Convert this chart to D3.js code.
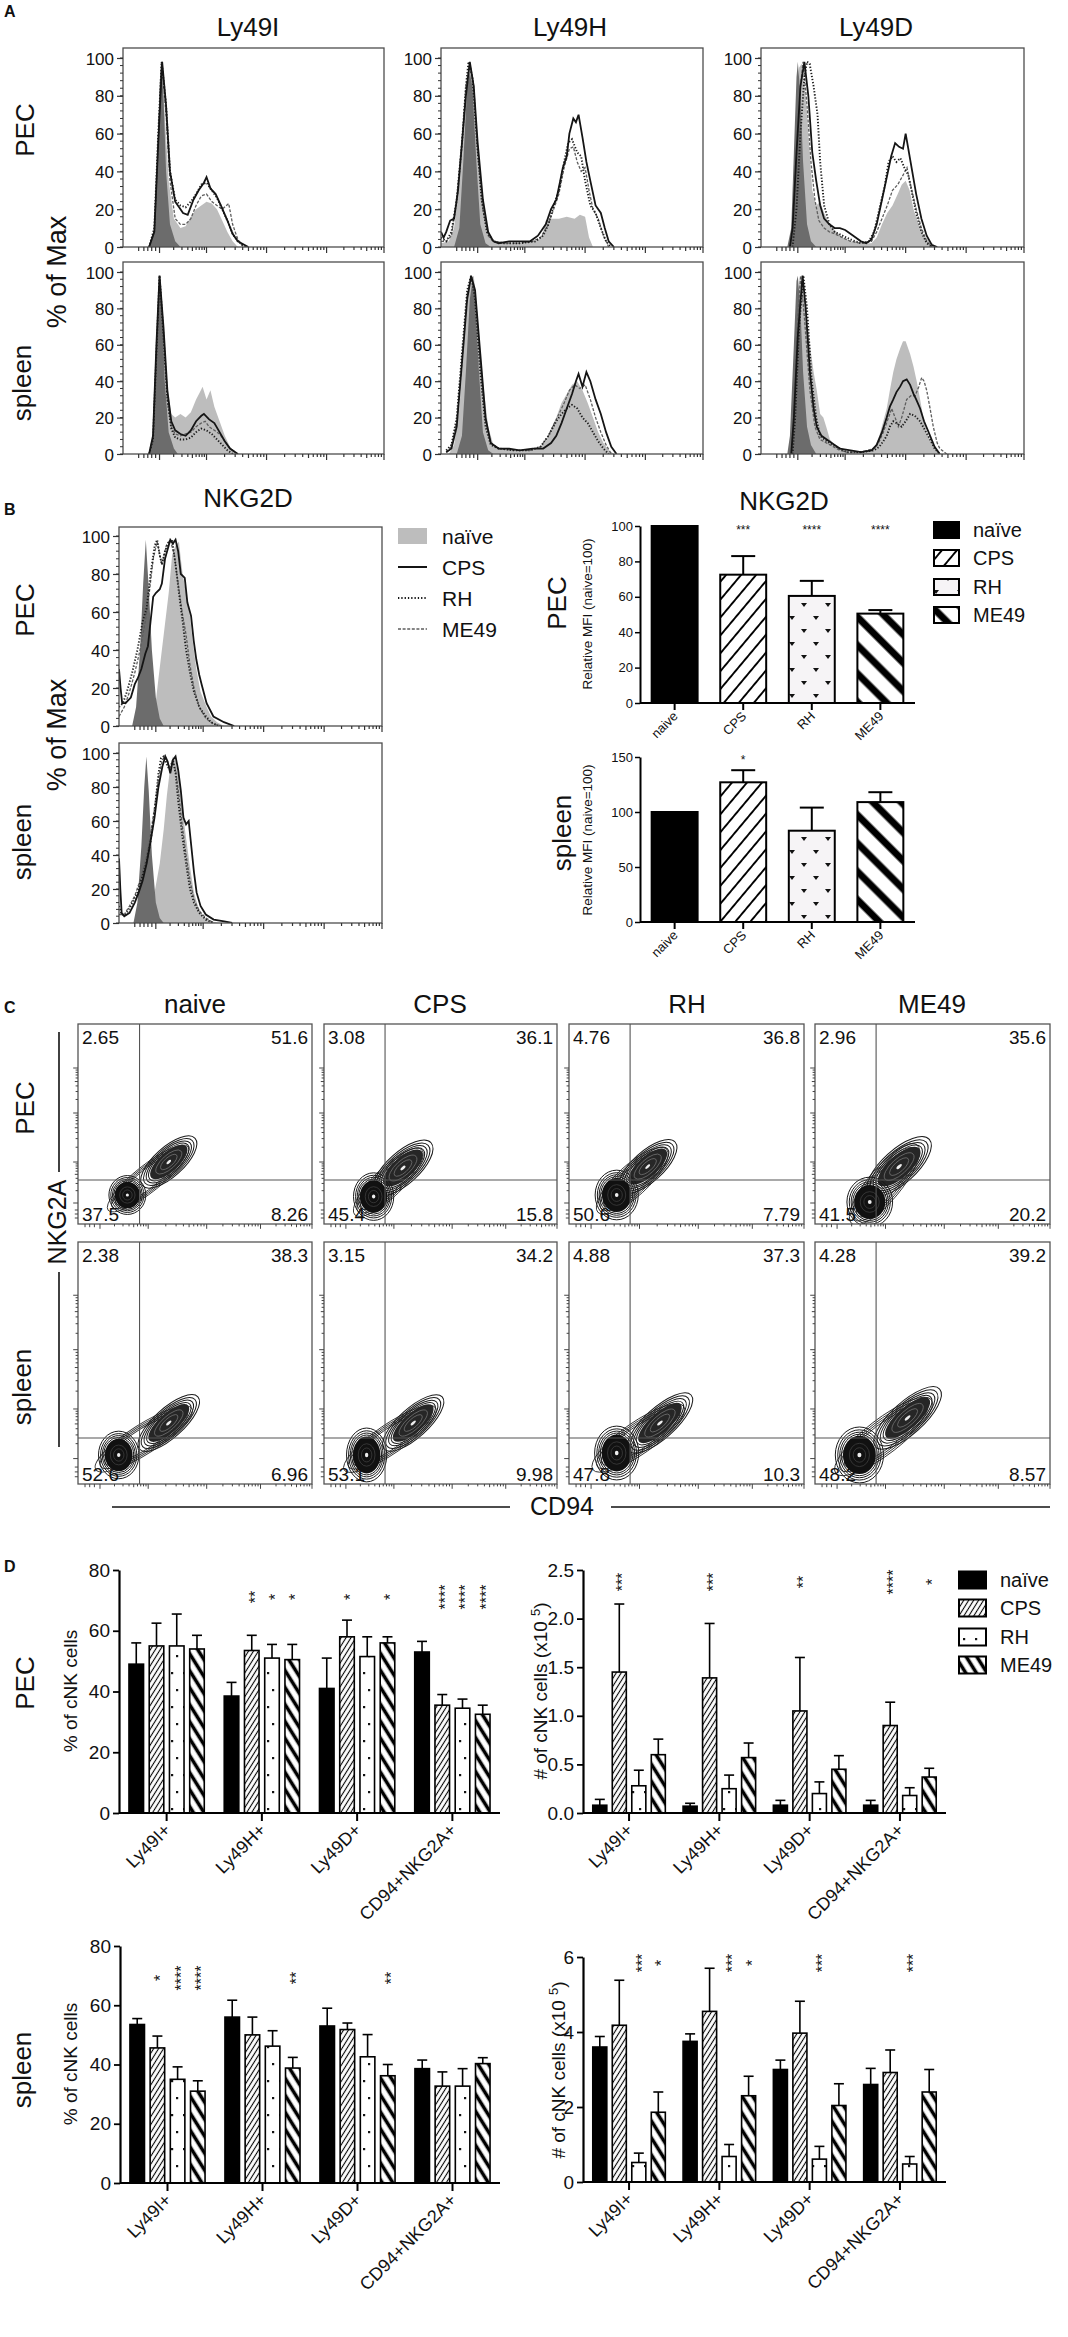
<!DOCTYPE html>
<html>
<head>
<meta charset="utf-8">
<script src="https://cdn.jsdelivr.net/npm/d3@7"></script>
<style>
body { margin: 0; background: #fff; }
svg text { font-family: "Liberation Sans", Arial, sans-serif; fill: #111; }
</style>
</head>
<body>
<svg id="fig" width="1068" height="2337"></svg>
<script>
// ---------------- data ----------------
const markers = ["Ly49I", "Ly49H", "Ly49D"];
const legendNames = ["naïve", "CPS", "RH", "ME49"];
const axisNames = ["naive", "CPS", "RH", "ME49"];
const subsets = ["Ly49I+", "Ly49H+", "Ly49D+", "CD94+NKG2A+"];
const rowNames = ["PEC", "spleen"];

// histogram curves: [position along axis (0-100), % of max]
const ly49iPecIso = [[10,0],[12,8],[13,40],[14,85],[14.6,98],[15.5,80],[16.5,40],[18,12],[20,3],[22,0]];
const ly49iPecNaive = [[10,0],[12,10],[13.5,60],[14.8,98],[16,70],[17.5,35],[19.5,15],[22,10],[24,11],[26,16],[28,20],[30,22],[32,24],[34,23],[36,20],[38,14],[40,8],[42,3],[44,0]];
const ly49iPecCps = [[10,0],[12,8],[13.5,55],[15,98],[16.5,75],[18,40],[20,24],[21.5,21],[23,18],[24.8,17],[27,25],[29,30],[31,34],[32,37],[33.5,31],[35.5,28],[37.5,22],[40,14],[42,7],[44,3],[48,0]];
const ly49iPecRh = [[10,0],[12,10],[13.5,60],[14.8,98],[16.5,75],[18,40],[20,25],[22,22],[24,21],[26,24],[28,28],[30,33],[32,34],[34,30],[36,26],[38,20],[40,14],[42,7],[44,3],[47,0]];
const ly49iPecMe49 = [[10,0],[12,8],[13.5,55],[14.8,97],[16.5,70],[18,35],[20,15],[22,12],[24,12],[26,15],[28,22],[30,27],[32,28],[34,24],[36,22],[38,20],[40.5,23],[42,12],[44,4],[46,0]];

const ly49iSplIso = [[10,0],[11.5,8],[12.5,40],[13.5,85],[14,98],[15,80],[16,40],[17.5,12],[19.5,3],[21,0]];
const ly49iSplNaive = [[10,0],[11.5,10],[12.8,60],[14,98],[15.5,70],[17,35],[18.5,22],[20,20],[22,22],[24,20],[26,23],[28,30],[29.5,34],[30.5,37],[32,30],[33.5,35],[35,26],[37,18],[39,10],[41,4],[43,1],[45,0]];
const ly49iSplCps = [[10,0],[11.5,10],[12.8,60],[14,98],[15.5,70],[17,35],[18.5,18],[20,13],[22,11],[24,10],[26,13],[28,18],[30,21],[31,22],[33,19],[35,17],[37,12],[39,7],[41,3],[44,0]];
const ly49iSplRh = [[10,0],[11.5,8],[12.8,55],[14,98],[15.5,65],[17,30],[18.5,14],[20,9],[22,8],[24,8],[26,9],[28,12],[30,14],[32,13],[34,11],[36,8],[38,5],[40,2],[42,0]];
const ly49iSplMe49 = [[10,0],[11.5,8],[12.8,55],[14,97],[15.5,65],[17,30],[18.5,15],[20,11],[22,10],[24,11],[26,12],[28,15],[30,17],[31.5,18],[33,15],[35,13],[37,11],[39,7],[41,3],[44,0]];

const ly49hPecIso = [[5,0],[7,10],[8.5,45],[10,85],[11,92],[12,85],[13.5,45],[15,12],[17,2],[19,0]];
const ly49hPecNaive = [[0,2],[3,3],[5,10],[7,35],[9,75],[11,98],[12.5,85],[14,55],[16,25],[18,8],[20,3],[24,2],[30,2],[36,3],[38.5,5],[40,14],[42,15],[45,15],[48,16],[51,15],[53,17],[55,16],[56.5,5],[58,0]];
const ly49hPecCps = [[0,8],[1,5],[2,8],[3.5,14],[5,15],[6.5,30],[8,55],[9.5,80],[11,98],[12.5,85],[14,55],[16,25],[18,8],[20,3],[22,2],[26,3],[30,3],[34,3],[37,6],[40,12],[42,20],[44,25],[45.5,35],[46.5,42],[48,48],[49,60],[50.5,68],[51.5,66],[52.5,70],[54,58],[55.5,45],[57,35],[59,22],[61,18],[62.5,10],[64,3],[66,0]];
const ly49hPecRh = [[0,5],[2,3],[4,8],[6,25],[8,55],[9.5,85],[10.5,98],[12,90],[13.5,60],[15.5,25],[17.5,8],[20,3],[24,2],[30,2],[36,3],[39,6],[41,12],[43,22],[45,30],[47,45],[48.5,55],[50,57],[52,50],[53.5,48],[55,35],[57,22],[59,18],[61,10],[63,3],[65,0]];
const ly49hPecMe49 = [[0,3],[2,3],[4,6],[6,25],[8,55],[9.5,85],[11,97],[12.5,85],[14,50],[16,20],[18,6],[20,3],[25,2],[30,2],[35,3],[38,5],[41,12],[43,20],[45,28],[47,42],[49,52],[50.5,53],[52,45],[53.5,40],[55,42],[56.5,30],[58,20],[60,15],[62,6],[64,0]];

const ly49hSplIso = [[6,0],[8,10],[9.5,45],[11,85],[12,95],[13,85],[14.5,45],[16,12],[18,2],[20,0]];
const ly49hSplNaive = [[3,0],[5,5],[7,25],[9,65],[11,95],[12.5,98],[14,75],[16,40],[18,15],[20,5],[23,3],[28,2],[33,2],[37,3],[40,7],[42,14],[44,20],[46,28],[48,33],[50,38],[52,40],[54,35],[56,28],[58,20],[60,12],[62,6],[64,2],[66,0]];
const ly49hSplCps = [[2,1],[4,3],[6,15],[8,50],[10,85],[11.5,98],[13,90],[15,55],[17,20],[19,6],[22,3],[26,3],[30,2],[35,3],[39,3],[42,6],[44,10],[46,17],[48,25],[50,33],[51.5,40],[52.5,44],[54,37],[55.5,45],[57,40],[59,30],[61,22],[63,12],[65,4],[67,0]];
const ly49hSplRh = [[2,2],[4,5],[6,20],[8,55],[10,90],[11.5,98],[13,85],[15,45],[17,15],[19,5],[22,3],[28,2],[34,2],[38,4],[41,10],[44,18],[46,22],[48,25],[50,27],[52,25],[54,20],[56,17],[58,12],[60,7],[62,3],[64,0]];
const ly49hSplMe49 = [[2,1],[4,4],[6,18],[8,50],[10,88],[11.5,97],[13,88],[15,50],[17,18],[19,6],[22,3],[28,2],[34,2],[38,4],[41,10],[43,16],[45,22],[47,28],[49,35],[51,38],[53,36],[55,38],[57,30],[59,20],[61,12],[63,5],[65,0]];

const ly49dPecIso = [[10,0],[11.5,10],[12.5,50],[13.5,90],[14,98],[15,80],[16,45],[17.5,12],[19,3],[21,0]];
const ly49dPecNaive = [[11,0],[12.5,20],[13.5,70],[14.5,95],[15.5,97],[17,80],[18.5,50],[19.5,30],[21,22],[22.5,24],[24,18],[26,12],[28,9],[31,5],[34,3],[38,2],[42,2],[44,5],[46,12],[48,18],[50,22],[52,28],[53.5,33],[55,35],[56.5,30],[58,20],[60,12],[62,6],[64,3],[67,0]];
const ly49dPecCps = [[11,0],[12,10],[13.5,50],[15,85],[16.5,98],[18,80],[19.5,50],[21,35],[22.5,22],[24,15],[26,12],[28,10],[30,10],[32,9],[34,7],[36,5],[38,3],[40,2],[42,4],[44,12],[46,25],[48,38],[49.5,48],[51,55],[52.5,53],[54,52],[55,60],[56,52],[57.5,40],[59,28],[61,15],[63,6],[65,1],[67,0]];
const ly49dPecRh = [[12,0],[13.5,20],[15,60],[16.5,90],[17.5,98],[18.5,97],[20,85],[21.5,70],[22.5,45],[24,22],[26,12],[28,8],[31,6],[34,4],[38,2],[41,3],[43,8],[45,20],[47,32],[48.5,45],[50,48],[51.5,45],[53,47],[54.5,42],[56,38],[57.5,28],[59,18],[61,8],[63,2],[65,0]];
const ly49dPecMe49 = [[11,0],[12.5,15],[14,55],[15,85],[16,98],[17.5,75],[19,45],[20.5,25],[22,14],[24,10],[26,8],[28,7],[31,5],[34,3],[38,2],[42,3],[44,8],[46,15],[48,22],[50,30],[52,33],[54,38],[55.5,42],[57,32],[59,20],[61,10],[63,3],[65,0]];

const ly49dSplIso = [[10,0],[11,10],[12.5,60],[13.5,95],[14,98],[15,80],[16,45],[17.5,15],[19,5],[21,0]];
const ly49dSplNaive = [[11,0],[12,25],[13.5,80],[14.8,98],[16.5,85],[18.6,60],[20,45],[21.2,35],[22.5,22],[23.7,20],[25,14],[26.2,8],[28,5],[30,3],[35,1],[40,1],[43,3],[45,10],[46.5,18],[47.8,25],[49,35],[50.3,45],[51.5,52],[52.9,58],[54,62],[55,62],[56.7,55],[58,48],[59.2,40],[60.5,30],[61.7,20],[63,12],[64.3,8],[66,3],[68,0]];
const ly49dSplCps = [[11.5,0],[12.5,20],[14,65],[15.8,98],[17,80],[18.6,45],[20,25],[21.2,15],[23,10],[25,8],[28,5],[30,3],[34,2],[38,1],[42,2],[44,5],[46,12],[47.8,20],[49,26],[50.3,30],[51.5,34],[52.9,37],[54,40],[55.4,41],[56.7,38],[58,33],[59,30],[60.5,25],[62,18],[64.3,10],[66,4],[68,0]];
const ly49dSplRh = [[12,0],[13,20],[14.5,70],[16.1,98],[17.5,80],[19.3,40],[21,20],[22.4,10],[25,7],[27.5,5],[30,3],[32.6,1],[38,1],[43,2],[45,4],[46.5,7],[47.8,10],[49,15],[50.3,18],[51.5,17],[53.5,15],[55,18],[56.7,22],[58.5,21],[60.5,18],[62,14],[64.3,8],[66,3],[68,0]];
const ly49dSplMe49 = [[11.5,0],[12.5,20],[14,75],[15.1,98],[16.5,75],[18.6,35],[20.5,15],[22.4,8],[25,6],[27.5,4],[30,2],[32.6,1],[38,1],[43,3],[45,7],[46.5,12],[48,18],[49.7,25],[51,20],[52.2,15],[53.5,20],[55.4,30],[57,32],[58.6,32],[60,37],[61.1,42],[62,40],[63,35],[64.3,25],[65.5,15],[67,6],[68,3],[70.6,0]];

const nkPecIso = [[5,0],[6.5,10],[8,40],[9.2,75],[10.2,98],[11.2,75],[12.5,40],[14,15],[15.5,4],[17,0]];
const nkPecNaive = [[12,0],[13.6,8],[15,25],[16.3,40],[17.6,55],[18.9,70],[20.2,90],[21.5,95],[22.8,97],[23.5,88],[24.2,80],[25.5,70],[26.8,60],[28,45],[29.4,30],[31,18],[33.3,10],[35,5],[37.3,2],[40,0]];
const nkPecCps = [[0,30],[0.6,20],[1.2,12],[2.5,12],[4.5,15],[6,22],[7.1,25],[8.5,30],[10,38],[11,42],[12,55],[13,68],[14,70],[15.5,72],[16.3,75],[17.5,88],[18.9,95],[19.5,98],[20.5,96],[21.5,98],[22.5,92],[23.5,80],[25,78],[26,65],[27.4,58],[28.4,45],[29.4,35],[30.5,27],[31.4,22],[33.3,12],[35.9,5],[39.9,2],[43.8,0]];
const nkPecRh = [[0,10],[1.5,12],[3,18],[5,28],[7,40],[9,55],[10.5,62],[12,80],[13.6,95],[14.5,98],[15.5,90],[16.3,85],[17.5,92],[18.9,97],[20.2,98],[21.5,85],[22.8,70],[24.2,55],[25.5,40],[27,28],[28.5,18],[30.5,10],[32.5,6],[35,2],[38,0]];
const nkPecMe49 = [[0,5],[2,10],[4,18],[6,28],[8,40],[10,55],[11.5,70],[13,88],[14.5,97],[15.5,90],[16.3,85],[18,95],[19.5,98],[21,90],[22.5,75],[24,60],[25.5,48],[27,32],[28.5,20],[30.5,10],[33,4],[36,1],[39,0]];

const nkSplIso = [[5.5,0],[7,12],[8.5,45],[9.6,80],[10.4,98],[11.3,78],[12.5,40],[14,12],[15.5,3],[17,0]];
const nkSplNaive = [[11,0],[12.5,10],[14,22],[15.5,35],[17,55],[18.2,75],[19.5,92],[20.5,98],[21.5,95],[22.8,85],[24,68],[25.5,50],[27,33],[28.5,18],[30,10],[32,4],[35,1],[38,0]];
const nkSplCps = [[0,38],[0.5,20],[1,6],[2,4],[4,6],[6,12],[7.5,18],[9,25],[10.5,35],[12,48],[13.5,62],[15,80],[16.5,92],[17.6,98],[18.5,95],[19.5,88],[20.5,96],[21.5,98],[22.5,90],[23.5,78],[24.5,62],[25.5,58],[26.5,60],[27.5,45],[28.5,30],[29.5,18],[31,10],[33,5],[36,2],[40,1],[43,0]];
const nkSplRh = [[0,10],[1,5],[2.5,5],[4.5,10],[7,18],[9,28],[10.5,36],[12,48],[13.5,65],[15,88],[16,97],[17,98],[18.5,92],[19.5,90],[20.5,96],[21.5,88],[22.5,72],[24,52],[25.5,35],[27,20],[28.5,12],[30.5,6],[33,2],[36,0]];
const nkSplMe49 = [[0,5],[2,5],[4,10],[6,16],[8,25],[10,36],[12,52],[13.5,68],[15,85],[16.5,96],[17.5,98],[19,92],[20.5,95],[21.5,90],[22.8,75],[24,58],[25.5,40],[27,25],[28.5,14],[30.5,7],[33,3],[36,0]];

const histYTicks = [0, 20, 40, 60, 80, 100];
const histDecades = [14, 32, 55, 78, 100];
const histNearZero = [6, 8, 9.5, 11, 12.5];

// B: relative MFI of NKG2D (naive = 100)
const mfiPec = [100, 72.5, 60.5, 50.5];
const mfiPecSem = [0, 10.5, 8.5, 2];
const mfiPecStars = ["", "***", "****", "****"];
const mfiSpl = [100, 127, 83, 109];
const mfiSplSem = [0, 11, 21, 9];
const mfiSplStars = ["", "*", "", ""];
const mfiPecTicks = [0, 20, 40, 60, 80, 100];
const mfiSplTicks = [0, 50, 100, 150];

// C: contour plots, quadrant percentages (naive, CPS, RH, ME49)
const cPecUL = ["2.65", "3.08", "4.76", "2.96"];
const cPecUR = ["51.6", "36.1", "36.8", "35.6"];
const cPecLL = ["37.5", "45.4", "50.6", "41.5"];
const cPecLR = ["8.26", "15.8", "7.79", "20.2"];
const cSplUL = ["2.38", "3.15", "4.88", "4.28"];
const cSplUR = ["38.3", "34.2", "37.3", "39.2"];
const cSplLL = ["52.6", "53.1", "47.8", "48.2"];
const cSplLR = ["6.96", "9.98", "10.3", "8.57"];
// populations: [center CD94, center NKG2A, spread x, spread y] in axis units
const cPecLowPop = [[21.1, 14.5, 7.3, 9], [21.3, 13.7, 8, 11], [20.3, 14.5, 8.5, 11.5], [23.3, 11, 9, 11.5]];
const cPecHighPop = [[38.8, 31, 14, 5.8], [33.9, 28, 15, 6.3], [33.5, 28.7, 14.5, 6], [35.8, 28.7, 16, 6.6]];
const cSplLowPop = [[17.4, 12, 8, 9.1], [18.3, 12, 8, 10.3], [20.3, 12.8, 8.7, 10.3], [18.9, 12, 9.5, 10.7]];
const cSplHighPop = [[38.8, 25.2, 15.5, 5.8], [38.3, 25.2, 15.5, 5.8], [38.7, 25.2, 16.5, 6], [39.4, 27.3, 17, 6.3]];
const cGateX = [26.3, 26.2, 26, 26];
const cGateY = [22, 19];

// D: % of cNK cells and numbers (x10^5), by subset
const pecPctNaive = [49, 38.5, 41, 53];
const pecPctNaiveSem = [7, 4.5, 10, 3.5];
const pecPctCps = [55, 53.5, 58, 35.5];
const pecPctCpsSem = [7.5, 5, 5.5, 3.5];
const pecPctRh = [55, 51, 51.5, 34.5];
const pecPctRhSem = [10.5, 4.5, 6.5, 3];
const pecPctMe49 = [54, 50.5, 56, 32.5];
const pecPctMe49Sem = [4.5, 5, 2, 3];

const pecNumNaive = [0.08, 0.07, 0.08, 0.08];
const pecNumNaiveSem = [0.06, 0.03, 0.05, 0.05];
const pecNumCps = [1.45, 1.39, 1.05, 0.9];
const pecNumCpsSem = [0.7, 0.56, 0.55, 0.24];
const pecNumRh = [0.28, 0.25, 0.2, 0.18];
const pecNumRhSem = [0.16, 0.14, 0.12, 0.08];
const pecNumMe49 = [0.6, 0.57, 0.45, 0.37];
const pecNumMe49Sem = [0.16, 0.15, 0.14, 0.09];

const splPctNaive = [53.5, 56, 53, 38.6];
const splPctNaiveSem = [2, 5.7, 6, 2.9];
const splPctCps = [45.6, 50, 51.8, 32.7];
const splPctCpsSem = [4, 6, 2.2, 4.8];
const splPctRh = [35, 46.2, 42.6, 32.7];
const splPctRhSem = [4.2, 5.2, 7.5, 5.9];
const splPctMe49 = [31, 38.8, 36.2, 40.3];
const splPctMe49Sem = [3.5, 3.6, 3.8, 2];

const splNumNaive = [3.6, 3.75, 3.0, 2.6];
const splNumNaiveSem = [0.28, 0.2, 0.25, 0.43];
const splNumCps = [4.18, 4.55, 3.97, 2.92];
const splNumCpsSem = [1.2, 1.15, 0.85, 0.6];
const splNumRh = [0.52, 0.68, 0.61, 0.48];
const splNumRhSem = [0.25, 0.32, 0.34, 0.2];
const splNumMe49 = [1.86, 2.3, 2.04, 2.4];
const splNumMe49Sem = [0.54, 0.52, 0.58, 0.6];

// significance, by condition then subset
const pecPctStars = [["", "", "", ""], ["", "**", "*", "****"], ["", "*", "", "****"], ["", "*", "*", "****"]];
const pecNumStars = [["", "", "", ""], ["***", "***", "**", "****"], ["", "", "", ""], ["", "", "", "*"]];
const splPctStars = [["", "", "", ""], ["*", "", "", ""], ["****", "", "", ""], ["****", "**", "**", ""]];
const splNumStars = [["", "", "", ""], ["", "", "", ""], ["***", "***", "***", "***"], ["*", "*", "", ""]];

const pctTicks = [0, 20, 40, 60, 80];
const pecNumTicks = [0, 0.5, 1, 1.5, 2, 2.5];
const splNumTicks = [0, 2, 4, 6];

// ---------------- drawing ----------------
const svg = d3.select('#fig');
const defs = svg.append('defs');
let clipN = 0;

function label(x, y, s, size, anchor, rot, weight) {
    const t = svg.append('text')
        .attr('font-size', size)
        .attr('text-anchor', anchor || 'start')
        .text(s);
    if (rot) t.attr('transform', 'translate(' + x + ',' + y + ') rotate(' + rot + ')');
    else t.attr('x', x).attr('y', y);
    if (weight) t.attr('font-weight', weight);
    return t;
}

// fill patterns
function hatch(id, angle, gap, sw) {
    const p = defs.append('pattern').attr('id', id)
        .attr('patternUnits', 'userSpaceOnUse')
        .attr('width', gap).attr('height', gap)
        .attr('patternTransform', 'rotate(' + angle + ')');
    p.append('rect').attr('width', gap).attr('height', gap).attr('fill', '#fff');
    p.append('line').attr('x1', gap / 2).attr('y1', -1).attr('x2', gap / 2).attr('y2', gap + 1)
        .attr('stroke', '#000').attr('stroke-width', sw);
}
hatch('cpsB', 40, 11.5, 1.9);
hatch('me49B', -45, 20, 7);
hatch('cpsD', 32, 4.2, 1.1);
hatch('me49D', -32, 9, 3.6);

const rhB = defs.append('pattern').attr('id', 'rhB').attr('patternUnits', 'userSpaceOnUse')
    .attr('width', 24).attr('height', 26);
rhB.append('rect').attr('width', 24).attr('height', 26).attr('fill', '#f6f4f6');
[[12, 7], [0, 20], [24, 20]].forEach(function (m) {
    rhB.append('path')
        .attr('d', 'M' + (m[0] - 3) + ',' + (m[1] - 2) + 'L' + m[0] + ',' + (m[1] + 2) + 'L' + (m[0] + 3) + ',' + (m[1] - 2) + 'Z')
        .attr('fill', '#111');
});
const rhD = defs.append('pattern').attr('id', 'rhD').attr('patternUnits', 'userSpaceOnUse')
    .attr('width', 12).attr('height', 34);
rhD.append('rect').attr('width', 12).attr('height', 34).attr('fill', '#fff');
[[3, 6], [8, 23]].forEach(function (m) {
    rhD.append('rect').attr('x', m[0]).attr('y', m[1]).attr('width', 2.2).attr('height', 2.2).attr('fill', '#111');
});

const fillsB = ['#000', 'url(#cpsB)', 'url(#rhB)', 'url(#me49B)'];
const fillsD = ['#000', 'url(#cpsD)', 'url(#rhD)', 'url(#me49D)'];

function logTicks(decades, near) {
    const out = near.map(function (p) { return {p: p, len: 4}; });
    decades.forEach(function (d, i) {
        out.push({p: d, len: 6});
        if (i < decades.length - 1) {
            for (let k = 2; k < 10; k++) {
                out.push({p: d + Math.log10(k) * (decades[i + 1] - d), len: k === 5 ? 4 : 3});
            }
        }
    });
    return out;
}

// ---- histogram panel ----
function histPanel(x0, x1, top, y100, y0, curves) {
    const g = svg.append('g');
    const x = d3.scaleLinear().domain([0, 100]).range([x0, x1]);
    const y = d3.scaleLinear().domain([0, 100]).range([y0, y100]);
    const id = 'hc' + (clipN++);
    defs.append('clipPath').attr('id', id).append('rect')
        .attr('x', x0).attr('y', top).attr('width', x1 - x0).attr('height', y0 - top);
    const area = d3.area().x(d => x(d[0])).y0(y0).y1(d => y(d[1]));
    const line = d3.line().x(d => x(d[0])).y(d => y(d[1]));
    const pg = g.append('g').attr('clip-path', 'url(#' + id + ')');
    pg.append('path').datum(curves[1]).attr('d', area).attr('fill', '#bdbdbd');
    pg.append('path').datum(curves[0]).attr('d', area).attr('fill', '#6c6c6c');
    pg.append('path').datum(curves[4]).attr('d', line).attr('fill', 'none')
        .attr('stroke', '#5e5e5e').attr('stroke-width', 1.3).attr('stroke-dasharray', '3,1.6');
    pg.append('path').datum(curves[3]).attr('d', line).attr('fill', 'none')
        .attr('stroke', '#1e1e1e').attr('stroke-width', 1.9).attr('stroke-dasharray', '1.3,1.8');
    pg.append('path').datum(curves[2]).attr('d', line).attr('fill', 'none')
        .attr('stroke', '#151515').attr('stroke-width', 1.8);

    g.append('rect').attr('x', x0).attr('y', top).attr('width', x1 - x0).attr('height', y0 - top)
        .attr('fill', 'none').attr('stroke', '#4d4d4d').attr('stroke-width', 1.3);

    const ya = g.append('g').attr('transform', 'translate(' + x0 + ',0)')
        .call(d3.axisLeft(y).tickValues(histYTicks).tickSize(6).tickPadding(3));
    ya.select('.domain').remove();
    ya.selectAll('text').attr('font-family', '"DejaVu Sans", sans-serif').attr('font-size', 17)
        .attr('dy', '0.36em').attr('fill', '#111');
    ya.selectAll('line').attr('stroke', '#333').attr('stroke-width', 1.2);
    g.selectAll(null).data(d3.range(0, 101, 4)).join('line')
        .attr('x1', x0 - 3).attr('x2', x0).attr('y1', d => y(d)).attr('y2', d => y(d))
        .attr('stroke', '#333').attr('stroke-width', 1);
    g.selectAll(null).data(logTicks(histDecades, histNearZero)).join('line')
        .attr('x1', d => x(d.p)).attr('x2', d => x(d.p)).attr('y1', y0).attr('y2', d => y0 + d.len)
        .attr('stroke', '#333').attr('stroke-width', 1.2);
}

// ---------- Panel A ----------
label(4, 17, 'A', 16, 'start', 0, 'bold');
const aCols = [[123, 384, 248], [441, 703, 570], [761, 1024, 876]];
const aRows = [[48, 58, 247], [262, 272, 454]];
const aCurves = [
    [[ly49iPecIso, ly49iPecNaive, ly49iPecCps, ly49iPecRh, ly49iPecMe49],
     [ly49iSplIso, ly49iSplNaive, ly49iSplCps, ly49iSplRh, ly49iSplMe49]],
    [[ly49hPecIso, ly49hPecNaive, ly49hPecCps, ly49hPecRh, ly49hPecMe49],
     [ly49hSplIso, ly49hSplNaive, ly49hSplCps, ly49hSplRh, ly49hSplMe49]],
    [[ly49dPecIso, ly49dPecNaive, ly49dPecCps, ly49dPecRh, ly49dPecMe49],
     [ly49dSplIso, ly49dSplNaive, ly49dSplCps, ly49dSplRh, ly49dSplMe49]]
];
markers.forEach(function (m, i) {
    label(aCols[i][2], 36, m, 26, 'middle');
    aRows.forEach(function (r, j) {
        histPanel(aCols[i][0], aCols[i][1], r[0], r[1], r[2], aCurves[i][j]);
    });
});
label(34, 130, rowNames[0], 26, 'middle', -90);
label(31, 383, rowNames[1], 26, 'middle', -90);
label(66, 272, '% of Max', 27, 'middle', -90);

// ---------- Panel B (histograms) ----------
label(4, 515, 'B', 16, 'start', 0, 'bold');
label(248, 507, 'NKG2D', 26, 'middle');
histPanel(119, 382, 527, 536, 726, [nkPecIso, nkPecNaive, nkPecCps, nkPecRh, nkPecMe49]);
histPanel(119, 382, 743, 753, 923, [nkSplIso, nkSplNaive, nkSplCps, nkSplRh, nkSplMe49]);
label(34, 610, rowNames[0], 26, 'middle', -90);
label(31, 842, rowNames[1], 26, 'middle', -90);
label(66, 735, '% of Max', 27, 'middle', -90);

// legend for histograms
const histLegY = [536, 567, 598, 629];
legendNames.forEach(function (n, i) {
    const yy = histLegY[i];
    if (i === 0) {
        svg.append('rect').attr('x', 398).attr('y', yy - 8).attr('width', 29).attr('height', 16).attr('fill', '#bdbdbd');
    } else {
        svg.append('line').attr('x1', 398).attr('x2', 427).attr('y1', yy).attr('y2', yy)
            .attr('stroke', i === 3 ? '#5e5e5e' : '#151515')
            .attr('stroke-width', i === 3 ? 1.4 : 2)
            .attr('stroke-dasharray', i === 2 ? '1.3,2' : (i === 3 ? '3,1.6' : null));
    }
    label(442, yy + 8, n, 21, 'start');
});

// ---------- Panel B (bar charts) ----------
function mfiChart(y0, yTop, domain, ticks, vals, sems, stars, starY) {
    const g = svg.append('g');
    const x = d3.scaleBand().domain(axisNames).range([640, 915]).paddingInner(0.33).paddingOuter(0.17);
    const y = d3.scaleLinear().domain(domain).range([y0, yTop]);
    const data = axisNames.map(function (k, i) {
        return {k: k, v: vals[i], e: sems[i], s: stars[i], f: fillsB[i]};
    });
    g.selectAll('rect').data(data).join('rect')
        .attr('x', d => x(d.k)).attr('y', d => y(d.v))
        .attr('width', x.bandwidth()).attr('height', d => y0 - y(d.v))
        .attr('fill', d => d.f).attr('stroke', '#000').attr('stroke-width', 2);
    const eb = data.filter(d => d.e > 0);
    g.selectAll('.ev').data(eb).join('line')
        .attr('x1', d => x(d.k) + x.bandwidth() / 2).attr('x2', d => x(d.k) + x.bandwidth() / 2)
        .attr('y1', d => y(d.v)).attr('y2', d => y(d.v + d.e))
        .attr('stroke', '#000').attr('stroke-width', 2);
    g.selectAll('.ec').data(eb).join('line')
        .attr('x1', d => x(d.k) + x.bandwidth() / 2 - 12).attr('x2', d => x(d.k) + x.bandwidth() / 2 + 12)
        .attr('y1', d => y(d.v + d.e)).attr('y2', d => y(d.v + d.e))
        .attr('stroke', '#000').attr('stroke-width', 2);
    g.selectAll('.st').data(data).join('text')
        .attr('x', d => x(d.k) + x.bandwidth() / 2).attr('y', starY)
        .attr('text-anchor', 'middle').attr('font-size', 12).text(d => d.s);

    const ya = g.append('g').attr('transform', 'translate(640,0)')
        .call(d3.axisLeft(y).tickValues(ticks).tickSize(5).tickPadding(2).tickSizeOuter(0));
    ya.select('.domain').attr('stroke-width', 2);
    ya.selectAll('line').attr('stroke-width', 1.5);
    ya.selectAll('text').attr('font-size', 13).attr('font-family', '"Liberation Sans", Arial, sans-serif');
    const xa = g.append('g').attr('transform', 'translate(0,' + y0 + ')')
        .call(d3.axisBottom(x).tickSize(7).tickSizeOuter(0).tickFormat(''));
    xa.select('.domain').attr('d', 'M640,0H915').attr('stroke-width', 2);
    xa.selectAll('line').attr('stroke-width', 2);
    g.selectAll('.xl').data(axisNames).join('text')
        .attr('transform', d => 'translate(' + (x(d) + x.bandwidth() / 2 + 4) + ',' + (y0 + 14) + ') rotate(-45)')
        .attr('text-anchor', 'end').attr('font-size', 13).text(d => d);
}
label(784, 510, 'NKG2D', 26, 'middle');
mfiChart(703, 526, [0, 100], mfiPecTicks, mfiPec, mfiPecSem, mfiPecStars, 534);
mfiChart(922, 757, [0, 150], mfiSplTicks, mfiSpl, mfiSplSem, mfiSplStars, 764);
label(566, 603, rowNames[0], 26, 'middle', -90);
label(571, 833, rowNames[1], 26, 'middle', -90);
label(592, 614, 'Relative MFI (naive=100)', 13.5, 'middle', -90);
label(592, 840, 'Relative MFI (naive=100)', 13.5, 'middle', -90);

function barLegend(x, w, h, ys, size, textX, fills) {
    legendNames.forEach(function (n, i) {
        svg.append('rect').attr('x', x).attr('y', ys[i] - h / 2).attr('width', w).attr('height', h)
            .attr('fill', fills[i]).attr('stroke', '#000').attr('stroke-width', 2);
        label(textX, ys[i] + size * 0.36, n, size, 'start');
    });
}
barLegend(934, 25, 16, [530, 558, 587, 615], 20, 973, fillsB);

// ---------- Panel C ----------
label(4, 1013, 'C', 16, 'start', 0, 'bold');
const cFramesX = [[78, 312], [324, 557], [569, 804], [815, 1050]];
const cTitleX = [195, 440, 687, 932];
const cRows = [[1024, 1224], [1242, 1484]];
const cYDecades = [10.5, 31, 55.5, 78];
const cXDecades = [9.4, 30, 55, 78, 100];

// one population: open outer contours, dark dense core, inner rings, pale center
function population(cg, cx, cy, rx, ry, rot, outer, core, inner, coreFill, innerStroke) {
    const tr = 'rotate(' + rot + ',' + cx + ',' + cy + ')';
    cg.selectAll(null).data(outer).join('ellipse')
        .attr('cx', cx).attr('cy', cy).attr('rx', s => rx * s).attr('ry', s => ry * s)
        .attr('transform', tr).attr('fill', 'none').attr('stroke', '#1a1a1a').attr('stroke-width', 1);
    cg.append('ellipse').attr('cx', cx).attr('cy', cy).attr('rx', rx * core).attr('ry', ry * core)
        .attr('transform', tr).attr('fill', coreFill);
    cg.selectAll(null).data(inner).join('ellipse')
        .attr('cx', cx).attr('cy', cy).attr('rx', s => rx * s).attr('ry', s => ry * s)
        .attr('transform', tr).attr('fill', 'none').attr('stroke', innerStroke).attr('stroke-width', 0.7);
    cg.append('ellipse').attr('cx', cx).attr('cy', cy).attr('rx', Math.max(1.4, rx * 0.09)).attr('ry', Math.max(1.2, ry * 0.09))
        .attr('transform', tr).attr('fill', '#eee');
}

function contourPlot(fx, top, bottom, low, high, gx, gy, nums) {
    const g = svg.append('g');
    const x = d3.scaleLinear().domain([0, 100]).range(fx);
    const y = d3.scaleLinear().domain([0, 100]).range([bottom, top]);
    const w = fx[1] - fx[0], h = bottom - top;
    const id = 'cc' + (clipN++);
    defs.append('clipPath').attr('id', id).append('rect')
        .attr('x', fx[0]).attr('y', top).attr('width', w).attr('height', h);
    const cg = g.append('g').attr('clip-path', 'url(#' + id + ')');

    const lx = x(low[0]), ly = y(low[1]);
    const hx = x(high[0]), hy = y(high[1]);
    const lrx = low[2] * w / 100, lry = low[3] * h / 100;
    const ha = high[2] * w / 100, hb = high[3] * w / 100;
    const ang = Math.atan2(hy - ly, hx - lx) * 180 / Math.PI;
    const dist = Math.hypot(hx - lx, hy - ly);
    const mx = (lx + hx) / 2, my = (ly + hy) / 2;
    // outer contours joining the two populations
    cg.selectAll('.br').data([1, 0.9, 0.8, 0.7]).join('ellipse')
        .attr('cx', mx).attr('cy', my)
        .attr('rx', s => (dist / 2 + ha * 0.75) * s).attr('ry', s => Math.min(lrx, lry) * 0.78 * s)
        .attr('transform', 'rotate(' + ang + ',' + mx + ',' + my + ')')
        .attr('fill', 'none').attr('stroke', '#333').attr('stroke-width', 0.9);
    population(cg, hx, hy, ha, hb, -42, [1.08, 0.97, 0.87, 0.78], 0.72, [0.5, 0.32], '#262626', '#777');
    population(cg, lx, ly, lrx, lry, 0, [1.08, 0.97, 0.88, 0.8], 0.74, [0.45, 0.28], '#111', '#444');

    g.append('line').attr('x1', x(gx)).attr('x2', x(gx)).attr('y1', top).attr('y2', bottom)
        .attr('stroke', '#555').attr('stroke-width', 1.1);
    g.append('line').attr('x1', fx[0]).attr('x2', fx[1]).attr('y1', y(gy)).attr('y2', y(gy))
        .attr('stroke', '#555').attr('stroke-width', 1.1);
    g.append('rect').attr('x', fx[0]).attr('y', top).attr('width', w).attr('height', h)
        .attr('fill', 'none').attr('stroke', '#555').attr('stroke-width', 1.3);

    g.selectAll('.yt').data(logTicks(cYDecades, [3, 5, 7])).join('line')
        .attr('x1', d => fx[0] - d.len * 0.8).attr('x2', fx[0])
        .attr('y1', d => y(d.p)).attr('y2', d => y(d.p))
        .attr('stroke', '#444').attr('stroke-width', 1);
    g.selectAll('.xt').data(logTicks(cXDecades, [3, 5, 7])).join('line')
        .attr('x1', d => x(d.p)).attr('x2', d => x(d.p)).attr('y1', bottom).attr('y2', d => bottom + d.len * 0.8)
        .attr('stroke', '#444').attr('stroke-width', 1);

    g.append('text').attr('x', fx[0] + 4).attr('y', top + 20).attr('font-size', 19).text(nums[0]);
    g.append('text').attr('x', fx[1] - 4).attr('y', top + 20).attr('font-size', 19).attr('text-anchor', 'end').text(nums[1]);
    g.append('text').attr('x', fx[0] + 4).attr('y', bottom - 3).attr('font-size', 19).text(nums[2]);
    g.append('text').attr('x', fx[1] - 4).attr('y', bottom - 3).attr('font-size', 19).attr('text-anchor', 'end').text(nums[3]);
}
axisNames.forEach(function (n, i) {
    label(cTitleX[i], 1013, n, 26, 'middle');
    contourPlot(cFramesX[i], cRows[0][0], cRows[0][1], cPecLowPop[i], cPecHighPop[i], cGateX[i], cGateY[0],
        [cPecUL[i], cPecUR[i], cPecLL[i], cPecLR[i]]);
    contourPlot(cFramesX[i], cRows[1][0], cRows[1][1], cSplLowPop[i], cSplHighPop[i], cGateX[i], cGateY[1],
        [cSplUL[i], cSplUR[i], cSplLL[i], cSplLR[i]]);
});
label(34, 1108, rowNames[0], 26, 'middle', -90);
label(31, 1387, rowNames[1], 26, 'middle', -90);
label(66, 1222, 'NKG2A', 25, 'middle', -90);
svg.append('line').attr('x1', 59).attr('x2', 59).attr('y1', 1032).attr('y2', 1172).attr('stroke', '#111').attr('stroke-width', 1.6);
svg.append('line').attr('x1', 59).attr('x2', 59).attr('y1', 1272).attr('y2', 1447).attr('stroke', '#111').attr('stroke-width', 1.6);
label(562, 1515, 'CD94', 25, 'middle');
svg.append('line').attr('x1', 112).attr('x2', 510).attr('y1', 1507).attr('y2', 1507).attr('stroke', '#111').attr('stroke-width', 1.6);
svg.append('line').attr('x1', 611).attr('x2', 1050).attr('y1', 1507).attr('y2', 1507).attr('stroke', '#111').attr('stroke-width', 1.6);

// ---------- Panel D ----------
function groupedBars(o) {
    const g = svg.append('g');
    const x0 = d3.scaleBand().domain(subsets).range([o.ax, o.xEnd]).paddingInner(o.pi).paddingOuter(o.po);
    const x1 = d3.scaleBand().domain(legendNames).range([0, x0.bandwidth()]).paddingInner(0.28).paddingOuter(0.14);
    const y = d3.scaleLinear().domain(o.domain).range([o.y0, o.yTop]);
    const data = [];
    subsets.forEach(function (s, i) {
        legendNames.forEach(function (c, j) {
            data.push({s: s, c: c, v: o.means[j][i], e: o.sems[j][i], st: o.stars[j][i], f: fillsD[j]});
        });
    });
    const cx = d => x0(d.s) + x1(d.c) + x1.bandwidth() / 2;
    g.selectAll('.ev').data(data).join('line')
        .attr('x1', cx).attr('x2', cx).attr('y1', d => y(d.v)).attr('y2', d => y(d.v + d.e))
        .attr('stroke', '#000').attr('stroke-width', 1.6);
    g.selectAll('.ec').data(data).join('line')
        .attr('x1', d => cx(d) - 5).attr('x2', d => cx(d) + 5)
        .attr('y1', d => y(d.v + d.e)).attr('y2', d => y(d.v + d.e))
        .attr('stroke', '#000').attr('stroke-width', 1.6);
    g.selectAll('rect').data(data).join('rect')
        .attr('x', d => x0(d.s) + x1(d.c)).attr('y', d => y(d.v))
        .attr('width', x1.bandwidth()).attr('height', d => o.y0 - y(d.v))
        .attr('fill', d => d.f).attr('stroke', '#000').attr('stroke-width', 1.6);
    g.selectAll('.st').data(data.filter(d => d.st)).join('text')
        .attr('transform', d => 'translate(' + (cx(d) + 9) + ',' + o.starY + ') rotate(-90)')
        .attr('text-anchor', 'middle').attr('font-size', 16).text(d => d.st);

    const ya = g.append('g').attr('transform', 'translate(' + o.ax + ',0)')
        .call(d3.axisLeft(y).tickValues(o.ticks).tickSize(6).tickPadding(3).tickSizeOuter(0)
            .tickFormat(o.fmt));
    ya.select('.domain').attr('stroke-width', 2.2);
    ya.selectAll('line').attr('stroke-width', 1.8);
    ya.selectAll('text').attr('font-size', 19).attr('font-family', '"Liberation Sans", Arial, sans-serif');
    const xa = g.append('g').attr('transform', 'translate(0,' + o.y0 + ')')
        .call(d3.axisBottom(x0).tickSize(8).tickSizeOuter(0).tickFormat(''));
    xa.select('.domain').attr('d', 'M' + o.ax + ',0H' + o.xEnd).attr('stroke-width', 2.2);
    xa.selectAll('line').attr('stroke-width', 2);
    g.selectAll('.xl').data(subsets).join('text')
        .attr('transform', d => 'translate(' + (x0(d) + x0.bandwidth() / 2 + 5) + ',' + (o.y0 + 18) + ') rotate(-45)')
        .attr('text-anchor', 'end').attr('font-size', 18).text(d => d);
}

label(4, 1572, 'D', 16, 'start', 0, 'bold');
groupedBars({ax: 119, xEnd: 500, pi: 0.15, po: 0.075, y0: 1813, yTop: 1570, domain: [0, 80], ticks: pctTicks,
    fmt: d3.format('d'), starY: 1597,
    means: [pecPctNaive, pecPctCps, pecPctRh, pecPctMe49],
    sems: [pecPctNaiveSem, pecPctCpsSem, pecPctRhSem, pecPctMe49Sem], stars: pecPctStars});
groupedBars({ax: 583, xEnd: 946, pi: 0.136, po: 0.078, y0: 1813, yTop: 1570, domain: [0, 2.5], ticks: pecNumTicks,
    fmt: d3.format('.1f'), starY: 1582,
    means: [pecNumNaive, pecNumCps, pecNumRh, pecNumMe49],
    sems: [pecNumNaiveSem, pecNumCpsSem, pecNumRhSem, pecNumMe49Sem], stars: pecNumStars});
groupedBars({ax: 120, xEnd: 500, pi: 0.15, po: 0.075, y0: 2183, yTop: 1946, domain: [0, 80], ticks: pctTicks,
    fmt: d3.format('d'), starY: 1978,
    means: [splPctNaive, splPctCps, splPctRh, splPctMe49],
    sems: [splPctNaiveSem, splPctCpsSem, splPctRhSem, splPctMe49Sem], stars: splPctStars});
groupedBars({ax: 583, xEnd: 946, pi: 0.136, po: 0.078, y0: 2182, yTop: 1957, domain: [0, 6], ticks: splNumTicks,
    fmt: d3.format('d'), starY: 1963,
    means: [splNumNaive, splNumCps, splNumRh, splNumMe49],
    sems: [splNumNaiveSem, splNumCpsSem, splNumRhSem, splNumMe49Sem], stars: splNumStars});

label(34, 1683, rowNames[0], 26, 'middle', -90);
label(31, 2070, rowNames[1], 26, 'middle', -90);
label(77, 1691, '% of cNK cells', 19, 'middle', -90);
label(77, 2064, '% of cNK cells', 19, 'middle', -90);
function numLabel(x, y) {
    const t = label(x, y, '# of cNK cells (x10 ', 19, 'middle', -90);
    t.append('tspan').attr('dy', -7).attr('font-size', 13).text('5');
    t.append('tspan').attr('dy', 7).text(')');
}
numLabel(547, 1691);
numLabel(565, 2070);
barLegend(959, 27, 17, [1580, 1608, 1637, 1665], 20, 1000, fillsD);
</script>
</body>
</html>
